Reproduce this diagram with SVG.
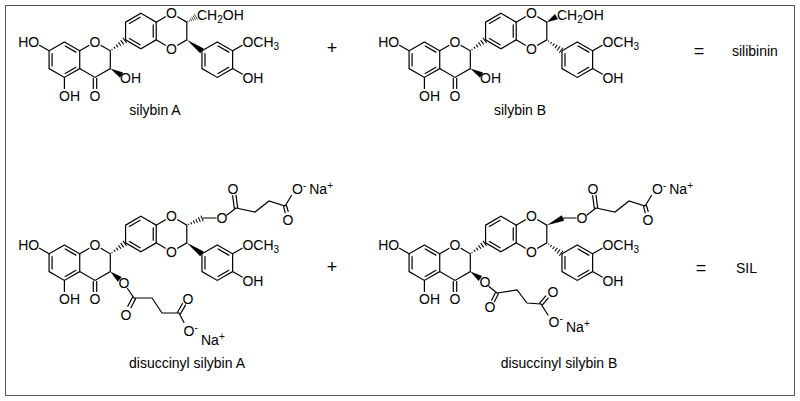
<svg xmlns="http://www.w3.org/2000/svg" xmlns:xlink="http://www.w3.org/1999/xlink" width="800" height="401" viewBox="0 0 800 401">
<style>
.b{stroke:#000;stroke-width:1.2;fill:none;stroke-linecap:round}
.t{font-family:"Liberation Sans",Arial,sans-serif;font-size:14px;fill:#000}
.s{font-size:10px}
.lbl{font-family:"Liberation Sans",Arial,sans-serif;font-size:14px;fill:#000;text-anchor:middle}
</style>
<defs>
<g id="hex1" class="b"><polygon points="0,-17.7 15.33,-8.85 15.33,8.85 0,17.7 -15.33,8.85 -15.33,-8.85"/><path d="M0.8,-13.77L11.5,-7.58M11.5,7.58L0.8,13.77M-12.33,6.2L-12.33,-6.2"/></g>
<g id="hex2" class="b"><polygon points="0,-17.7 15.33,-8.85 15.33,8.85 0,17.7 -15.33,8.85 -15.33,-8.85"/><path d="M12.33,-6.2L12.33,6.2M-0.8,13.77L-11.5,7.58M-11.5,-7.58L-0.8,-13.77"/></g>
<g id="hw" stroke="#000" stroke-width="1"><path d="M2,-0.6V0.6M5,-1.1V1.1M8,-1.6V1.6M11,-2.1V2.1M14,-2.6V2.6M17,-3.1V3.1"/></g>
<polygon id="bw" points="0,0 18,-3 18,3" fill="#000"/>
<g id="core">
<use xlink:href="#hex1" transform="translate(64.4,59.7)"/>
<use xlink:href="#hex2" transform="translate(140.9,31)"/>
<use xlink:href="#hex1" transform="translate(217.3,59.7)"/>
<path class="b" d="M79.7,50.85L88.9,45.5M101.1,45.5L110.3,50.85L110.3,68.55L95,77.4L79.7,68.55M156.2,22.15L165.4,16.8M177.6,16.8L186.8,22.15L186.8,39.85L177.6,45.2M165.4,45.2L156.2,39.85M93.3,78.4V88.5M96.7,78.4V88.5M64.4,77.4V88.5M49.1,50.85L39.5,45.3M232.6,50.85L242.2,45.3M232.6,68.55L242.2,74.1"/>
<text class="lbl" x="95" y="47">O</text>
<text class="lbl" x="171.5" y="18.3">O</text>
<text class="lbl" x="171.5" y="53.7">O</text>
<text class="lbl" x="95" y="100.5">O</text>
<text class="t" x="59" y="100.5">OH</text>
<text class="t" x="39.2" y="47" text-anchor="end">HO</text>
<text class="t" x="242.4" y="47">OCH<tspan class="s" dy="3">3</tspan></text>
<text class="t" x="242.4" y="82.5">OH</text>
</g>
</defs>
<rect x="5.5" y="5.5" width="789" height="390" fill="#fff" stroke="#555" stroke-width="1"/>

<g id="silybinA">
<use xlink:href="#core"/>
<use xlink:href="#hw" transform="translate(110.3,50.85) rotate(-35.7) scale(1.05,1)"/>
<use xlink:href="#bw" transform="translate(110.3,68.55) rotate(30) scale(0.72,1)"/>
<text class="t" x="120.1" y="82.5">OH</text>
<use xlink:href="#hw" transform="translate(186.8,22.15) rotate(-30) scale(0.62,1)"/>
<text class="t" x="197" y="20">CH<tspan class="s" dy="3">2</tspan><tspan dy="-3">OH</tspan></text>
<use xlink:href="#bw" transform="translate(186.8,39.85) rotate(35.9) scale(1.04,1)"/>
<text class="lbl" x="155" y="115">silybin A</text>
</g>

<g id="silybinB" transform="translate(360,0)">
<use xlink:href="#core"/>
<use xlink:href="#hw" transform="translate(110.3,50.85) rotate(-35.7) scale(1.05,1)"/>
<use xlink:href="#bw" transform="translate(110.3,68.55) rotate(30) scale(0.72,1)"/>
<text class="t" x="120.1" y="82.5">OH</text>
<use xlink:href="#bw" transform="translate(186.8,22.15) rotate(-30) scale(0.62,1)"/>
<text class="t" x="197" y="20">CH<tspan class="s" dy="3">2</tspan><tspan dy="-3">OH</tspan></text>
<use xlink:href="#hw" transform="translate(186.8,39.85) rotate(35.9) scale(1.04,1)"/>
<text class="lbl" x="160" y="115">silybin B</text>
</g>

<g id="disuccA">
<use xlink:href="#core" transform="translate(0,203)"/>
<use xlink:href="#hw" transform="translate(110.3,253.85) rotate(-35.7) scale(1.05,1)"/>
<use xlink:href="#bw" transform="translate(110.3,271.55) rotate(39.9) scale(0.68,1)"/>
<use xlink:href="#hw" transform="translate(186.8,225.15) rotate(-23.8) scale(0.98,1)"/>
<use xlink:href="#bw" transform="translate(186.8,242.85) rotate(35.9) scale(1.04,1)"/>
<path class="b" d="M203,218H216M227,215L236,208M234.3,208.2L232.6,195.5M237.7,207.8L236,195.1M236,208L255,212L269,201L285,206L291.5,195.5M283.6,206.7L285.2,212.6M286.6,205.6L288.2,211.5"/>
<text class="lbl" x="222" y="223">O</text>
<text class="lbl" x="233" y="194">O</text>
<text class="lbl" x="288" y="225">O</text>
<text class="t" x="292" y="194">O<tspan class="s" dy="-5">-</tspan><tspan dx="3" dy="5">Na</tspan><tspan class="s" dy="-5">+</tspan></text>
<path class="b" d="M127.5,288.5L134,298M132.5,297.2L127.8,306.3M135.6,298.6L130.9,307.7M134,298H152L162,313H179M177.5,312.2L182.5,303.5M180.5,313.8L185.5,305.1M179,313L184,322.5"/>
<text class="lbl" x="124" y="288">O</text>
<text class="lbl" x="126" y="320">O</text>
<text class="lbl" x="188" y="304">O</text>
<text class="t" x="183.5" y="336">O<tspan class="s" dy="-5">-</tspan></text>
<text class="t" x="201" y="345">Na<tspan class="s" dy="-5">+</tspan></text>
<text class="lbl" x="187" y="368">disuccinyl silybin A</text>
</g>

<g id="disuccB">
<use xlink:href="#core" transform="translate(360,203)"/>
<use xlink:href="#hw" transform="translate(470.3,253.85) rotate(-35.7) scale(1.05,1)"/>
<use xlink:href="#bw" transform="translate(470.3,271.55) rotate(35) scale(0.68,1)"/>
<use xlink:href="#bw" transform="translate(546.8,225.15) rotate(-23.8) scale(0.98,1)"/>
<use xlink:href="#hw" transform="translate(546.8,242.85) rotate(35.9) scale(1.04,1)"/>
<path class="b" d="M563,218H576M587,215L596,208M594.3,208.2L592.6,195.5M597.7,207.8L596,195.1M596,208L615,212L629,201L645,206L651.5,195.5M643.6,206.7L645.2,212.6M646.6,205.6L648.2,211.5"/>
<text class="lbl" x="582" y="223">O</text>
<text class="lbl" x="593" y="194">O</text>
<text class="lbl" x="648" y="225">O</text>
<text class="t" x="652" y="194">O<tspan class="s" dy="-5">-</tspan><tspan dx="3" dy="5">Na</tspan><tspan class="s" dy="-5">+</tspan></text>
<path class="b" d="M489,286.5L497,293M495.6,292.2L491.6,300.2M498.4,293.8L494.4,301.8M497,293L517,290L527,303L541,304M539.8,302.9L545.8,295.9M542.2,305.1L548.2,298.1M541,304L548,315"/>
<text class="lbl" x="485" y="287">O</text>
<text class="lbl" x="490" y="312">O</text>
<text class="lbl" x="553" y="297">O</text>
<text class="t" x="548.5" y="327">O<tspan class="s" dy="-5">-</tspan></text>
<text class="t" x="566" y="332">Na<tspan class="s" dy="-5">+</tspan></text>
<text class="lbl" x="559" y="368">disuccinyl silybin B</text>
</g>

<g id="operators" font-family="Liberation Sans, Arial, sans-serif" font-size="18">
<text x="332" y="54" text-anchor="middle">+</text>
<text x="699" y="57" text-anchor="middle">=</text>
<text x="732" y="56" font-size="14">silibinin</text>
<text x="332" y="273" text-anchor="middle">+</text>
<text x="701" y="274" text-anchor="middle">=</text>
<text x="736" y="273" font-size="14">SIL</text>
</g>
</svg>
